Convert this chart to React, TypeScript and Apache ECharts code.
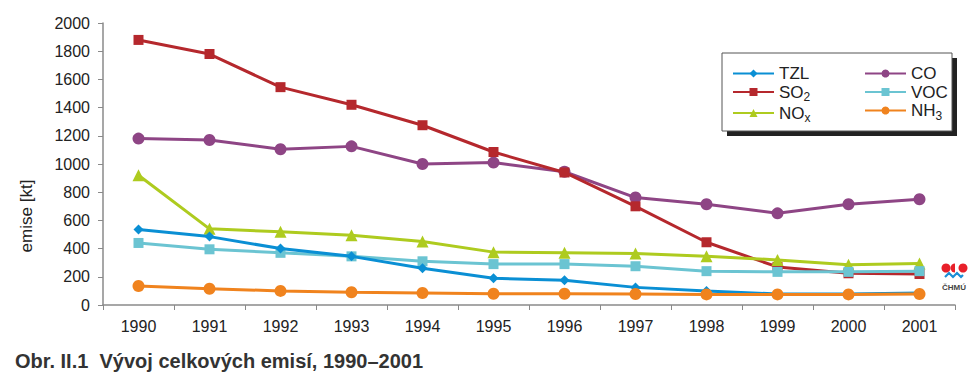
import React, { useEffect, useRef } from "react";
import * as echarts from "echarts";

const years = ["1990", "1991", "1992", "1993", "1994", "1995", "1996", "1997", "1998", "1999", "2000", "2001"];
const tzl = [535, 485, 400, 345, 260, 190, 175, 125, 100, 78, 78, 85];
const so2 = [1880, 1780, 1545, 1420, 1275, 1085, 940, 700, 445, 270, 225, 220];
const nox = [920, 540, 520, 495, 450, 375, 370, 365, 345, 320, 285, 295];
const co = [1180, 1170, 1105, 1125, 1000, 1010, 945, 762, 715, 650, 715, 750];
const voc = [440, 395, 370, 345, 310, 290, 290, 275, 240, 235, 235, 240];
const nh3 = [135, 115, 100, 90, 85, 80, 80, 78, 75, 75, 75, 78];

const FONT = "'Liberation Sans', Arial, sans-serif";

export default function App() {
  const ref = useRef<HTMLDivElement>(null);
  useEffect(() => {
    if (!ref.current) return;
    const chart = echarts.init(ref.current, undefined, { renderer: "svg" });
    const mk = (name: string, data: number[], color: string, symbol: string, size: number, z: number) => ({
      name,
      type: "line",
      data,
      color,
      symbol,
      symbolSize: size,
      z,
      lineStyle: { width: 3, color },
      itemStyle: { color },
    });
    const legendText = {
      fontFamily: FONT,
      fontSize: 17,
      color: "#222",
      rich: {
        b: { fontFamily: FONT, fontSize: 17, color: "#222", lineHeight: 18 },
        s: { fontFamily: FONT, fontSize: 12, color: "#222", lineHeight: 12, verticalAlign: "bottom", padding: [0, 0, -2, 0] },
      },
    };
    const fmt = (n: string) => {
      if (n === "SO2") return "{b|SO}{s|2}";
      if (n === "NOx") return "{b|NO}{s|x}";
      if (n === "NH3") return "{b|NH}{s|3}";
      return "{b|" + n + "}";
    };
    const legendBase = {
      orient: "vertical",
      itemWidth: 41,
      itemHeight: 10,
      itemGap: 1.5,
      padding: 0,
      textStyle: legendText,
      formatter: fmt,
    };
    chart.setOption({
      animation: false,
      backgroundColor: "#fff",
      grid: { left: 103, right: 21, top: 23, bottom: 78 },
      xAxis: {
        type: "category",
        data: years,
        boundaryGap: true,
        axisLine: { lineStyle: { color: "#8a8a8a", width: 1.5 } },
        axisTick: { show: true, length: 5, lineStyle: { color: "#8a8a8a" } },
        axisLabel: { fontFamily: FONT, fontSize: 16, color: "#222", margin: 13 },
      },
      yAxis: {
        type: "value",
        min: 0,
        max: 2000,
        interval: 200,
        axisLine: { show: true, lineStyle: { color: "#8a8a8a", width: 1.5 } },
        axisTick: { show: true, length: 5, lineStyle: { color: "#8a8a8a" } },
        splitLine: { show: false },
        axisLabel: { fontFamily: FONT, fontSize: 16, color: "#222", margin: 13, formatter: (v: number) => String(v) },
      },
      legend: [
        { ...legendBase, left: 732, top: 65, data: ["TZL", "SO2", "NOx"] },
        { ...legendBase, left: 864, top: 65, data: ["CO", "VOC", "NH3"] },
      ],
      graphic: [
        { type: "rect", z: -1, shape: { x: 727, y: 58, width: 230, height: 78 }, style: { fill: "#222" }, silent: true },
        { type: "rect", z: -1, shape: { x: 722, y: 53, width: 230, height: 78 }, style: { fill: "#fff", stroke: "#555", lineWidth: 1 }, silent: true },
        {
          type: "text",
          x: 26,
          y: 216,
          rotation: Math.PI / 2,
          style: { text: "emise [kt]", fontFamily: FONT, fontSize: 17, fill: "#222", align: "center", verticalAlign: "middle" },
        },
        {
          type: "text",
          x: 15,
          y: 361,
          style: {
            text: "Obr. II.1  Vývoj celkových emisí, 1990–2001",
            fontFamily: FONT,
            fontSize: 20,
            fontWeight: "bold",
            fill: "#333",
            align: "left",
            verticalAlign: "middle",
          },
        },
        { type: "circle", shape: { cx: 946, cy: 268, r: 4.5 }, style: { fill: "#e8202a" } },
        { type: "sector", shape: { cx: 955, cy: 268, r: 4.5, startAngle: Math.PI / 2, endAngle: (3 * Math.PI) / 2 }, style: { fill: "#e8202a" } },
        { type: "circle", shape: { cx: 963, cy: 268, r: 4.5 }, style: { fill: "#e8202a" } },
        {
          type: "polyline",
          shape: { points: [[945, 277], [949, 273], [953, 277], [957, 273], [961, 277], [963, 275]] },
          style: { stroke: "#1a8fd6", lineWidth: 2.2, fill: "none" },
        },
        {
          type: "text",
          x: 954,
          y: 287,
          style: { text: "ČHMÚ", fontFamily: FONT, fontSize: 8, fontWeight: "bold", fill: "#444", align: "center", verticalAlign: "middle" },
        },
      ],
      series: [
        mk("CO", co, "#8e4585", "circle", 12, 2),
        mk("SO2", so2, "#b5282d", "rect", 10, 3),
        mk("NOx", nox, "#aecb1f", "triangle", 12, 4),
        mk("VOC", voc, "#6bc4d2", "rect", 10, 5),
        mk("TZL", tzl, "#0a8fd4", "diamond", 10, 6),
        mk("NH3", nh3, "#f0831e", "circle", 12, 7),
      ],
    });
    return () => chart.dispose();
  }, []);
  return <div ref={ref} style={{ position: "fixed", left: 0, top: 0, width: 976, height: 383 }} />;
}
